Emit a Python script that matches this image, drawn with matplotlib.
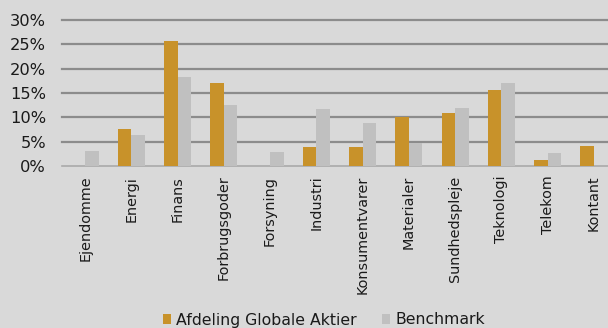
import matplotlib
matplotlib.use("Agg")
import matplotlib.pyplot as plt
import numpy as np

categories = ["Ejendomme", "Energi", "Finans", "Forbrugsgoder", "Forsyning", "Industri",
              "Konsumentvarer", "Materialer", "Sundhedspleje", "Teknologi", "Telekom", "Kontant"]
afdeling = [0.0, 7.7, 25.7, 17.0, 0.0, 3.9, 3.9, 10.1, 10.8, 15.7, 1.2, 4.2]
benchmark = [3.1, 6.4, 18.2, 12.5, 2.9, 11.7, 8.9, 4.8, 11.9, 17.0, 2.7, 0.0]
yticks = [0, 5, 10, 15, 20, 25, 30]
series_names = ["Afdeling Globale Aktier", "Benchmark"]

bg = "#D9D9D9"
c_orange = "#C8922A"
c_gray = "#C0C0C0"
txt = "#1A1A1A"

W, H = 608, 328
fig = plt.figure(figsize=(W / 100, H / 100), dpi=100, facecolor=bg)
left, right_px, top, bottom = 62, 617, 20, 166
ax = fig.add_axes([left / W, 1 - bottom / H, (right_px - left) / W, (bottom - top) / H])
ax.set_facecolor(bg)

x = np.arange(len(categories))
bw = 0.29
ax.bar(x - bw / 2, afdeling, width=bw, color=c_orange, label=series_names[0], zorder=3)
ax.bar(x + bw / 2, benchmark, width=bw, color=c_gray, label=series_names[1], zorder=3)

ax.set_xlim(-0.5, len(categories) - 0.5)
ax.set_ylim(0, 30)
ax.set_yticks(yticks)
ax.set_yticklabels([f"{v}%" for v in yticks], fontsize=11.7, color=txt)
ax.set_xticks(x)
ax.set_xticklabels(categories, rotation=90, fontsize=10.4, color=txt)
ax.tick_params(axis="x", length=0, pad=7)
ax.tick_params(axis="y", length=0, pad=11.5)
for v in yticks[1:]:
    ax.axhline(v, color="#8C8C8C", lw=1.6, zorder=1, clip_on=False)
for s in ["top", "right", "left"]:
    ax.spines[s].set_visible(False)
ax.spines["bottom"].set_color("#AAAAAA")
ax.spines["bottom"].set_linewidth(1.2)

leg = fig.legend(loc="center", bbox_to_anchor=(324 / W, 1 - 320 / H), ncol=2,
                 frameon=False, fontsize=11.3, handlelength=0.5, handleheight=0.6,
                 handletextpad=0.35, columnspacing=1.6, borderpad=0, labelcolor=txt)

fig.savefig("out.png", dpi=100, facecolor=bg)
